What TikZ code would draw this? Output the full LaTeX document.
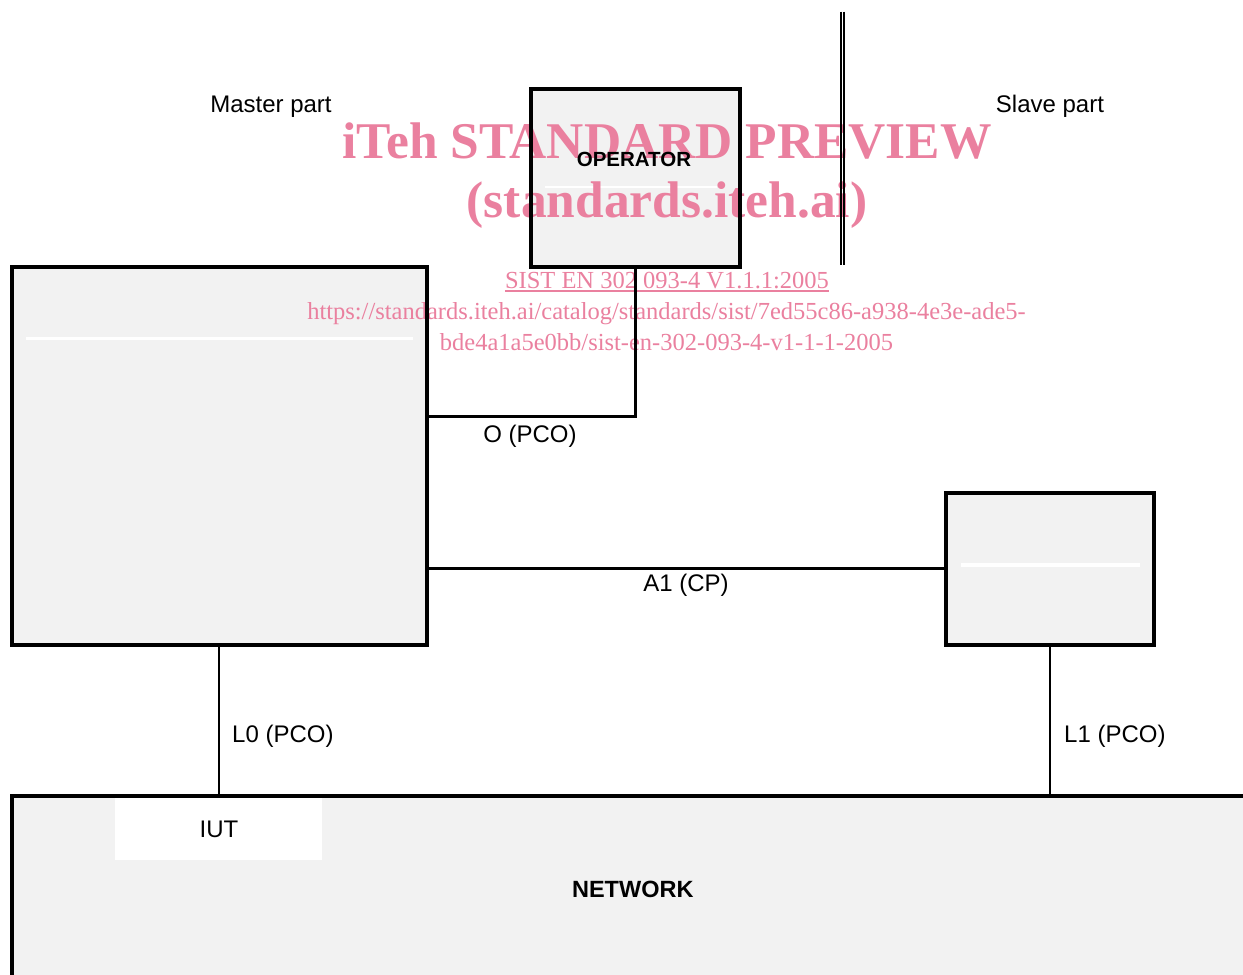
\documentclass[tikz,border=0pt]{standalone}
\usepackage{fontspec}
\setmainfont{Liberation Sans}
\newfontfamily\wmfont{Liberation Serif}
\usetikzlibrary{calc}
\definecolor{boxgray}{RGB}{242,242,242}
\definecolor{wmpink}{RGB}{234,128,159}
\pgfdeclarelayer{bg}
\pgfdeclarelayer{wm}
\pgfsetlayers{bg,wm,main}
\begin{document}
\begin{tikzpicture}[x=1pt,y=-1pt,
  blk/.style={draw, line width=4pt, inner sep=0pt},
  conn/.style={line width=2.5pt},
  lbl/.style={font=\fontsize{24}{28}\selectfont, inner sep=0pt, anchor=base},
  lblw/.style={lbl, anchor=base west},
  bold/.style={inner sep=0pt, anchor=base, font=\bfseries\fontsize{#1}{#1}\selectfont},
  wmbig/.style={inner sep=0pt, anchor=base, text=wmpink, font=\wmfont\bfseries\fontsize{51.5}{60}\selectfont},
  wmsmall/.style={inner sep=0pt, anchor=base, text=wmpink, font=\wmfont\fontsize{24.5}{30}\selectfont},
  whiteline/.style={white, line width=3pt}
]
\path[use as bounding box, clip] (0,0) rectangle (1243,975);

% boxes
\node[blk, minimum width=208.4pt, minimum height=178pt] (op) at (635.5,177.7) {};
\node[blk, minimum width=414.7pt, minimum height=377.8pt] (tester) at (219.3,455.6) {};
\node[blk, minimum width=208pt, minimum height=151.7pt] (slave) at (1050,568.85) {};
\node[blk, minimum width=1300pt, minimum height=300pt, anchor=north west] (net) at (10,794) {};

% fills and interior marks
\begin{pgfonlayer}{bg}
  \clip (0,0) rectangle (1243,975);
  \fill[boxgray] (op.south west) rectangle (op.north east);
  \fill[boxgray] (tester.south west) rectangle (tester.north east);
  \fill[boxgray] (slave.south west) rectangle (slave.north east);
  \fill[boxgray] (net.south west) rectangle (net.north east);
  \coordinate (ol1) at (545,186.7); \coordinate (ol2) at (717,186.7);
  \draw[white, line width=2pt] (ol1) -- (ol2);
  \coordinate (tl1) at (26,338); \coordinate (tl2) at (413,338);
  \draw[whiteline] (tl1) -- (tl2);
  \coordinate (sl1) at (961,565); \coordinate (sl2) at (1140,565);
  \draw[whiteline, line width=3.5pt] (sl1) -- (sl2);
  \fill[white] (115,798) rectangle (322,860);
\end{pgfonlayer}

% double separator
\coordinate (d1t) at (841,11.7); \coordinate (d1b) at (841,265);
\coordinate (d2t) at (844,11.7); \coordinate (d2b) at (844,265);
\draw[line width=2pt] (d1t) -- (d1b);
\draw[line width=2pt] (d2t) -- (d2b);

% connectors
\coordinate (oc) at (635.5,416.3);
\draw[conn] (op.south) -- (oc) -- (tester.east |- oc);
\coordinate (ac) at (700,568.3);
\draw[conn] (tester.east |- ac) -- (slave.west |- ac);
\coordinate (l0) at (219,700);
\draw[conn] (tester.south -| l0) -- (net.north -| l0);
\draw[conn] (slave.south) -- (slave.south |- net.north);

% labels
\node[lbl] (master) at (271,112) {Master part};
\node[lbl] (slavelbl) at (1050,112) {Slave part};
\node[bold=20.5] (optxt) at (634,166) {OPERATOR};
\node[lbl] (olbl) at (530,442.5) {O (PCO)};
\node[lbl] (albl) at (686,591.5) {A1 (CP)};
\node[lblw] (l0lbl) at (232,742) {L0 (PCO)};
\node[lblw] (l1lbl) at (1064,742) {L1 (PCO)};
\node[lbl] (iut) at (219,837) {IUT};
\node[bold=23.5] (nettxt) at (632.8,897.5) {NETWORK};

% watermark
\begin{pgfonlayer}{wm}
  \node[wmbig] (wmA) at (667,158) {iTeh STANDARD PREVIEW};
  \node[wmbig] (wmB) at (667,217) {(standards.iteh.ai)};
  \node[wmsmall] (wmC) at (667,288) {SIST EN 302 093-4 V1.1.1:2005};
  \draw[wmpink, line width=1.3pt] ($(wmC.base west)+(0,3)$) -- ($(wmC.base east)+(0,3)$);
  \node[wmsmall] (wmD) at (666.5,319.5) {https://standards.iteh.ai/catalog/standards/sist/7ed55c86-a938-4e3e-ade5-};
  \node[wmsmall] (wmE) at (666.5,350) {bde4a1a5e0bb/sist-en-302-093-4-v1-1-1-2005};
\end{pgfonlayer}
\end{tikzpicture}
\end{document}
